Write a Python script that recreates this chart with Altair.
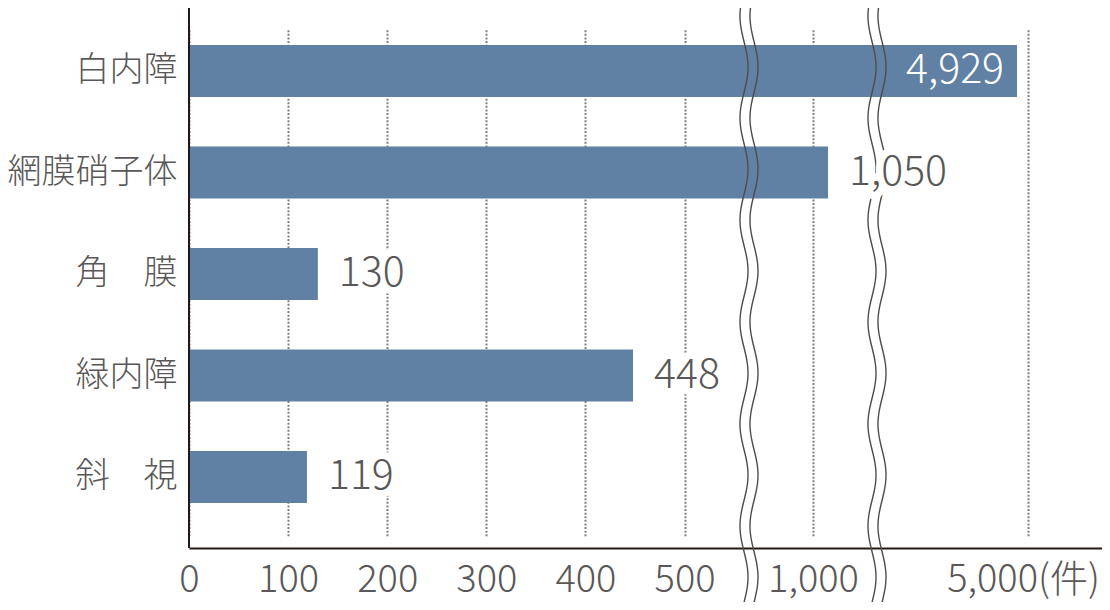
import altair as alt
import pandas as pd
import numpy as np

# ---- data ----
categories = ["白内障", "網膜硝子体", "角\u3000膜", "緑内障", "斜\u3000視"]
values = [4929, 1050, 130, 448, 119]
tick_values = [0, 100, 200, 300, 400, 500, 1000, 5000]
unit_suffix = "(件)"

FONT = "Noto Sans CJK JP"
TEXT = "#595757"
AXIS = "#231815"
BAR = "#6080A4"

W, H = 913, 540

# piecewise (broken) x scale
x_domain = [0, 565, 787, 1213, 4026, 5477]
x_range = [0, 560, 560, 688, 688, 913]
xscale = alt.Scale(domain=x_domain, range=x_range, nice=False, zero=False)
yscale = alt.Scale(domain=categories, range=[12.25, 519.75], paddingInner=0.488, paddingOuter=0.244)

df = pd.DataFrame({"cat": categories, "val": values})

xaxis = alt.Axis(values=tick_values, title=None, grid=True, gridDash=[2, 1.6],
                 gridColor="#808080", gridWidth=2, ticks=False,
                 domainColor=AXIS, domainWidth=2,
                 labelFont=FONT, labelFontSize=38, labelFontWeight=300, labelColor=TEXT,
                 labelPadding=13, labelFlush=False, labelOverlap=False,
                 labelOffset={"condition": {"test": "datum.value == 5000", "value": -5}, "value": 0},
                 labelExpr="datum.value == 5000 ? '5,000" + unit_suffix + "' : format(datum.value, ',')")
yaxis = alt.Axis(title=None, domain=False, ticks=False, labelFont=FONT,
                 labelFontSize=34, labelFontWeight=300, labelColor=TEXT, labelPadding=12)

bars = alt.Chart(df).mark_bar(color=BAR).encode(
    x=alt.X("val:Q", scale=xscale, axis=xaxis),
    y=alt.Y("cat:N", scale=yscale, sort=None, axis=yaxis),
)

inside = alt.Chart(df).transform_filter("datum.val > 4000").mark_text(
    align="right", baseline="middle", dx=-13, font=FONT, fontSize=41, fontWeight=300, color="white"
).encode(x=alt.X("val:Q", scale=xscale, axis=xaxis),
         y=alt.Y("cat:N", scale=yscale, sort=None, axis=yaxis),
         text=alt.Text("val:Q", format=","))

enc = dict(x=alt.X("val:Q", scale=xscale, axis=None),
           y=alt.Y("cat:N", scale=yscale, sort=None, axis=None),
           text=alt.Text("val:Q", format=","))

outside_halo = alt.Chart(df).transform_filter("datum.val <= 4000").mark_text(
    align="left", baseline="middle", dx=21, font=FONT, fontSize=41, fontWeight=300,
    color="white", stroke="white", strokeWidth=15, strokeJoin="round"
).encode(**enc)

outside = alt.Chart(df).transform_filter("datum.val <= 4000").mark_text(
    align="left", baseline="middle", dx=21, font=FONT, fontSize=41, fontWeight=300, color=TEXT
).encode(**enc)

yline = alt.Chart(df).mark_rule(color=AXIS, strokeWidth=2).encode(
    x=alt.value(0), y=alt.value(0), y2=alt.value(H))

# ---- axis-break decoration (pixel space) ----
ys = np.arange(-8, 600, 1.5)
rows_a, rows_l = [], []
for b, c in enumerate([560, 688]):
    wave = 4 * np.sin(2 * np.pi * (ys - 33.5) / 102)
    for y, w in zip(ys, wave):
        rows_a.append({"brk": b, "py": y, "xl": c - 5 + w, "xr": c + 5 + w})
        rows_l.append({"lid": f"{b}L", "py": y, "px": c - 5 + w})
        rows_l.append({"lid": f"{b}R", "py": y, "px": c + 5 + w})
da = pd.DataFrame(rows_a)
dl = pd.DataFrame(rows_l)

gap = alt.Chart(da).mark_area(orient="horizontal", color="white", opacity=1).encode(
    y=alt.Y("py:Q", scale=None, axis=None),
    x=alt.X("xl:Q", scale=None, axis=None),
    x2="xr:Q",
    detail="brk:N",
    order="py:Q",
)
lines = alt.Chart(dl).mark_line(color="#4d4d4d", strokeWidth=1.4).encode(
    y=alt.Y("py:Q", scale=None, axis=None),
    x=alt.X("px:Q", scale=None, axis=None),
    detail="lid:N",
    order="py:Q",
)

base = alt.layer(bars, inside, yline)
brk = alt.layer(gap, lines)
labels = alt.layer(outside_halo, outside)

chart = alt.layer(base, brk, labels).resolve_scale(x="independent", y="independent").properties(
    width=W, height=H,
    autosize=alt.AutoSizeParams(type="none"),
    padding={"left": 181, "top": 0, "right": 0, "bottom": 54},
).configure_view(stroke=None)

chart.save("out.html", embed_options={"renderer": "svg", "actions": False})
